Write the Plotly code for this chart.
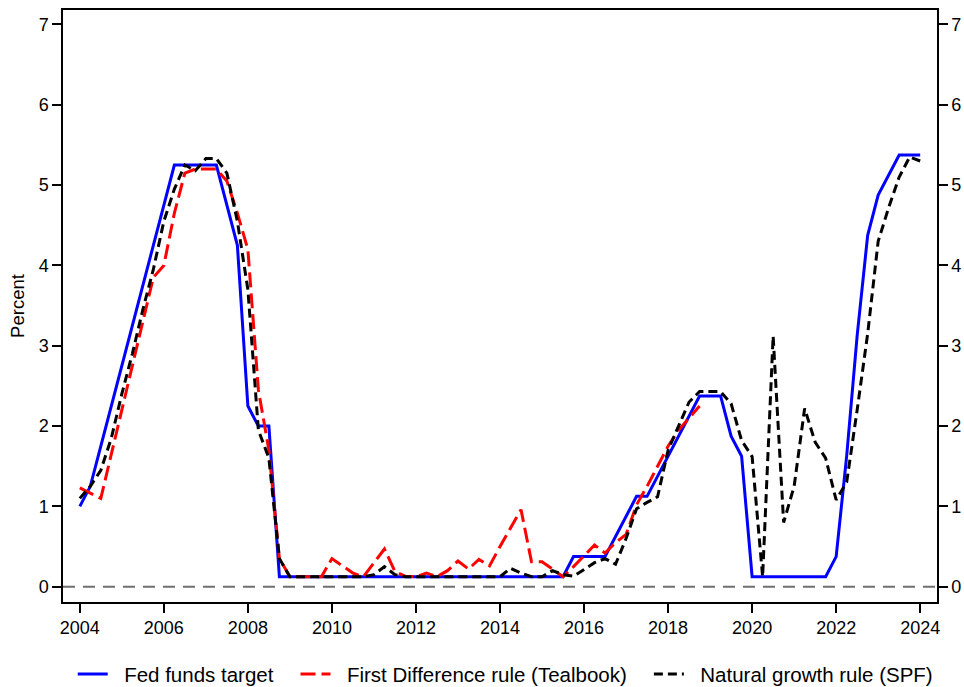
import plotly.graph_objects as go

# Quarterly dates 2004Q1 .. 2024Q1 (decimal years)
quarters = [2004 + 0.25 * i for i in range(81)]

fed_funds = [1.0, 1.25, 1.75, 2.25, 2.75, 3.25, 3.75, 4.25,
             4.75, 5.25, 5.25, 5.25, 5.25, 5.25, 4.75, 4.25,
             2.25, 2.0, 2.0, 0.125,
             0.125, 0.125, 0.125, 0.125, 0.125, 0.125, 0.125, 0.125,
             0.125, 0.125, 0.125, 0.125, 0.125, 0.125, 0.125, 0.125,
             0.125, 0.125, 0.125, 0.125, 0.125, 0.125, 0.125, 0.125,
             0.125, 0.125, 0.125, 0.375,
             0.375, 0.375, 0.375, 0.625, 0.875, 1.125, 1.125, 1.375,
             1.625, 1.875, 2.125, 2.375, 2.375, 2.375, 1.875, 1.625,
             0.125, 0.125, 0.125, 0.125, 0.125, 0.125, 0.125, 0.125,
             0.375, 1.625, 3.125, 4.375, 4.875, 5.125, 5.375, 5.375,
             5.375]

first_diff = [1.23, 1.17, 1.10, 1.65, 2.2, 2.72, 3.3, 3.85,
              4.0, 4.65, 5.15, 5.2, 5.2, 5.2, 5.05, 4.65,
              4.2, 2.45, 1.7, 0.35,
              0.125, 0.125, 0.125, 0.125, 0.35, 0.26, 0.17, 0.125,
              0.3, 0.47, 0.19, 0.13, 0.125, 0.17, 0.125, 0.2,
              0.32, 0.22, 0.34, 0.26, 0.5, 0.73, 0.96, 0.31,
              0.31, 0.22, 0.125, 0.25, 0.38, 0.52, 0.42, 0.55,
              0.65, 1.02, 1.25, 1.5, 1.75, 1.95, 2.1, 2.25]

natural_growth = [1.1, 1.25, 1.45, 1.85, 2.4, 2.9, 3.45, 3.95,
                  4.55, 4.95, 5.25, 5.18, 5.33, 5.33, 5.15, 4.55,
                  3.7, 1.95, 1.6, 0.35,
                  0.125, 0.125, 0.125, 0.125, 0.125, 0.125, 0.125, 0.125,
                  0.15, 0.25, 0.15, 0.125, 0.125, 0.125, 0.125, 0.125,
                  0.125, 0.125, 0.125, 0.125, 0.125, 0.23, 0.17, 0.125,
                  0.125, 0.2, 0.15, 0.13, 0.22, 0.3, 0.35, 0.28,
                  0.6, 0.97, 1.05, 1.12, 1.7, 2.0, 2.3, 2.43,
                  2.43, 2.43, 2.28, 1.82, 1.62, 0.125, 3.12, 0.8,
                  1.25, 2.22, 1.8, 1.6, 1.08, 1.3, 2.2, 3.15,
                  4.3, 4.72, 5.1, 5.35, 5.3]

series_names = ["Fed funds target", "First Difference rule (Tealbook)",
                "Natural growth rule (SPF)"]
x_ticks = list(range(2004, 2025, 2))
y_ticks = list(range(0, 8))

FONT = "Liberation Sans, Arial, sans-serif"
YR = [-0.19, 7.18]
LEAD = "\u00a0" * 2   # gap between legend symbol and text
TRAIL = "\u00a0" * 3  # extra spacing between legend entries

fig = go.Figure()
fig.add_trace(go.Scatter(x=quarters, y=fed_funds, mode="lines",
                         name=LEAD + series_names[0] + TRAIL,
                         line=dict(color="#0000ff", width=3)))
fig.add_trace(go.Scatter(x=quarters[:len(first_diff)], y=first_diff, mode="lines",
                         name=LEAD + series_names[1] + TRAIL,
                         line=dict(color="#ff0000", width=3, dash="15px,6px")))
fig.add_trace(go.Scatter(x=quarters, y=natural_growth, mode="lines",
                         name=LEAD + series_names[2],
                         line=dict(color="#000000", width=3, dash="9px,5px")))
# invisible trace to activate the right-hand axis
fig.add_trace(go.Scatter(x=quarters, y=fed_funds, yaxis="y2", mode="lines",
                         line=dict(width=0), opacity=0, showlegend=False,
                         hoverinfo="skip"))

fig.add_shape(type="line", xref="paper", yref="y", x0=0, x1=1, y0=0, y1=0,
              line=dict(color="#707070", width=2, dash="12px,8px"), layer="below")

axis_common = dict(showline=True, linecolor="black", linewidth=1.5,
                   ticks="outside", ticklen=9, tickwidth=1.5, tickcolor="black",
                   showgrid=False, zeroline=False, automargin=False,
                   tickfont=dict(family=FONT, size=18, color="black"))

fig.update_layout(
    width=964, height=687,
    margin=dict(l=63, r=27, t=10, b=85, autoexpand=False),
    paper_bgcolor="white", plot_bgcolor="white",
    font=dict(family=FONT, color="black"),
    xaxis=dict(range=[2003.6, 2024.4], tickvals=x_ticks, mirror=True,
               **axis_common),
    yaxis=dict(range=YR, tickvals=y_ticks,
               title=dict(text="Percent", font=dict(family=FONT, size=18.5), standoff=9),
               **axis_common),
    yaxis2=dict(range=YR, tickvals=y_ticks, overlaying="y", side="right",
                **axis_common),
    legend=dict(orientation="h", x=0.506, xanchor="center", y=-0.122,
                yanchor="middle", font=dict(family=FONT, size=20.5, color="black"),
                itemwidth=30, tracegroupgap=0),
    showlegend=True,
)

# remove the default page margin / scrollbars so the figure fills the window
page_css = ("document.body.style.margin='0';"
            "document.body.style.overflow='hidden';"
            "document.documentElement.style.overflow='hidden';")

fig.write_html("out.html", post_script=page_css,
               config={"displayModeBar": False})
